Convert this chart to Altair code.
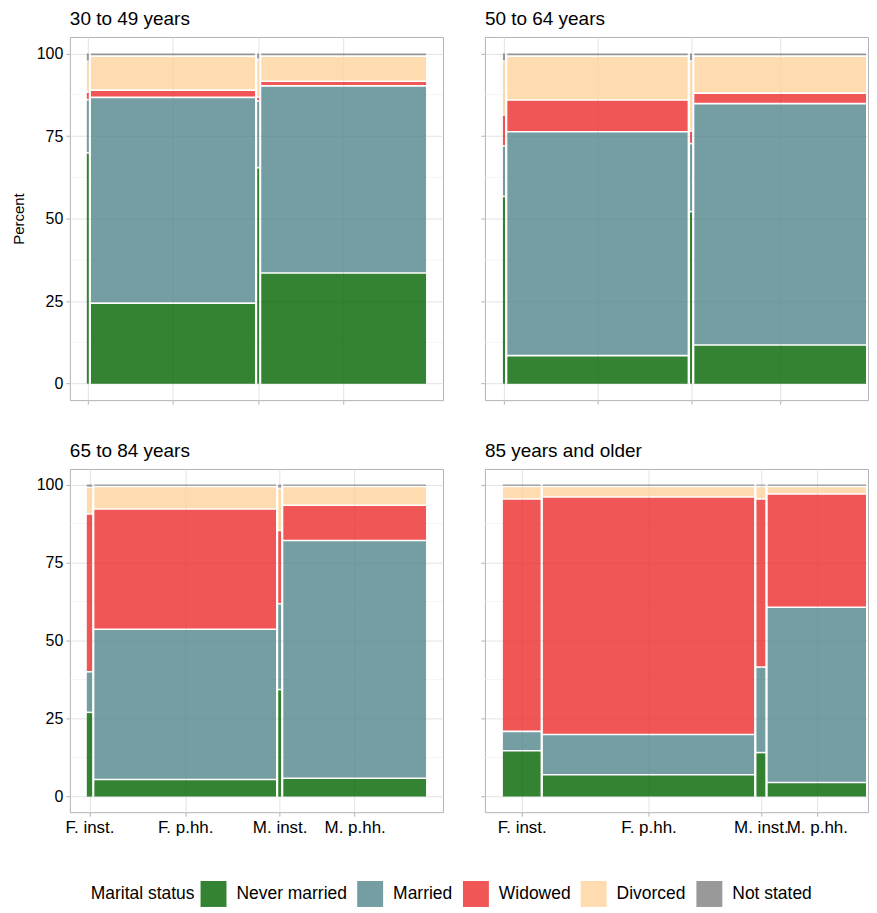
import altair as alt
import pandas as pd

age_groups = ["30 to 49 years", "50 to 64 years", "65 to 84 years", "85 years and older"]
households = ["F. inst.", "F. p.hh.", "M. inst.", "M. p.hh."]
statuses = ["Never married", "Married", "Widowed", "Divorced", "Not stated"]
colors = ["#006400", "#53868B", "#EE2C2C", "#FFD39B", "#7F7F7F"]

# share (%) of each household type within the age group
share_30_49 = [0.9, 49.0, 1.2, 48.9]
share_50_64 = [0.9, 50.3, 1.2, 47.6]
share_65_84 = [1.9, 54.2, 1.5, 42.4]
share_85_up = [10.7, 58.8, 3.1, 27.4]

# marital status (%) within each household type: Never married, Married, Widowed, Divorced, Not stated
status_30_49 = [[69.9, 16.1, 2.3, 9.3, 2.4],
                [24.4, 62.3, 2.2, 10.3, 0.8],
                [65.4, 20.2, 1.2, 11.4, 1.8],
                [33.5, 56.7, 1.4, 7.6, 0.8]]
status_50_64 = [[56.7, 15.3, 9.4, 16.3, 2.3],
                [8.5, 67.8, 9.6, 13.3, 0.8],
                [52.1, 20.6, 3.8, 21.2, 2.3],
                [11.7, 73.1, 3.2, 11.2, 0.8]]
status_65_84 = [[27.0, 13.0, 50.6, 8.5, 0.9],
                [5.5, 48.1, 38.6, 7.2, 0.6],
                [34.3, 27.5, 23.5, 13.5, 1.2],
                [5.9, 76.2, 11.3, 6.0, 0.6]]
status_85_up = [[14.7, 6.2, 74.5, 4.0, 0.6],
                [7.0, 12.9, 76.1, 3.4, 0.6],
                [14.1, 27.4, 53.9, 4.0, 0.6],
                [4.5, 56.2, 36.3, 2.4, 0.6]]

shares = dict(zip(age_groups, [share_30_49, share_50_64, share_65_84, share_85_up]))
status_pct = dict(zip(age_groups, [status_30_49, status_50_64, status_65_84, status_85_up]))

GX = 0.65  # gap between columns (mosaic units)
GY = 0.5   # gap between stacked cells

rows = []
for a in age_groups:
    sh = shares[a]
    tot = sum(sh)
    cum = [0.0]
    for s in sh:
        cum.append(cum[-1] + s * 100.0 / tot)
    for i, hh in enumerate(households):
        x0 = cum[i] + (GX / 2 if i > 0 else 0)
        x1 = cum[i + 1] - (GX / 2 if i < len(households) - 1 else 0)
        p = status_pct[a][i]
        tp = sum(p)
        cy = [0.0]
        for v in p:
            cy.append(cy[-1] + v * 100.0 / tp)
        for k, st in enumerate(statuses):
            y0 = cy[k] + (GY / 2 if k > 0 else 0)
            y1 = cy[k + 1] - (GY / 2 if k < len(statuses) - 1 else 0)
            rows.append(dict(panel=a, household=hh, status=st, order=k,
                             x=x0, x2=x1, y=y0, y2=y1, xc=(x0 + x1) / 2))
rects = pd.DataFrame(rows)
minor_df = pd.DataFrame({"v": [12.5, 37.5, 62.5, 87.5]})

FONT = "Liberation Sans"
GRID = "#e3e3e3"
TICK = "#b3b3b3"


def panel(name, row, col):
    d = rects[rects.panel == name]
    centers = sorted(d.drop_duplicates("household")["xc"].tolist())
    labs = households
    mids = [(centers[j] + centers[j + 1]) / 2 for j in range(3)]
    expr = ("datum.value < %f ? '%s' : datum.value < %f ? '%s' : datum.value < %f ? '%s' : '%s'"
            % (mids[0], labs[0], mids[1], labs[1], mids[2], labs[2], labs[3]))
    if col == 0:
        w, xdom = 374, [-5, 105]
    else:
        w, xdom = 384, [-4.96, 100.55]
    h = 364 if row == 0 else 344
    xscale = alt.Scale(domain=xdom, nice=False, zero=False)
    yscale = alt.Scale(domain=[-5, 105], nice=False, zero=False)
    xaxis = alt.Axis(values=centers, labelExpr=expr, labels=(row == 1), title=None,
                     grid=True, gridColor=GRID, gridWidth=1, domain=False,
                     tickSize=4, tickColor=TICK, labelOverlap=False,
                     labelFont=FONT, labelFontSize=17, labelColor="#000000", labelPadding=3)
    if col == 0:
        ytitle = "Percent" if row == 0 else " "
    else:
        ytitle = None
    yaxis_kw = dict(values=[0, 25, 50, 75, 100], labels=(col == 0),
                    grid=True, gridColor=GRID, gridWidth=1, domain=False,
                    tickSize=4, tickColor=TICK,
                    labelFont=FONT, labelFontSize=16, labelColor="#000000", labelPadding=3,
                    titleFont=FONT, titleFontSize=15, titleFontWeight="normal",
                    titleColor="#000000", titlePadding=10)
    yaxis = alt.Axis(title=ytitle, **yaxis_kw)
    minor = alt.Chart(minor_df).mark_rule(color="#efefef", strokeWidth=0.7).encode(
        y=alt.Y("v:Q", scale=yscale, axis=yaxis))
    rect = alt.Chart(d).mark_rect(opacity=0.8).encode(
        x=alt.X("x:Q", scale=xscale, axis=xaxis),
        x2="x2:Q",
        y=alt.Y("y:Q", scale=yscale, axis=yaxis),
        y2="y2:Q",
        color=alt.Color("status:N", sort=statuses,
                        scale=alt.Scale(domain=statuses, range=colors),
                        legend=alt.Legend(title="Marital status", orient="none",
                                          direction="horizontal", legendX=21, legendY=846,
                                          titleOrient="left", titleAnchor="middle",
                                          titleBaseline="middle", symbolType="square",
                                          symbolSize=676, symbolStrokeWidth=0,
                                          symbolOpacity=0.8, labelFont=FONT,
                                          labelFontSize=17.5, titleFont=FONT,
                                          titleFontSize=17.5, titleFontWeight="normal",
                                          labelColor="#000000", titleColor="#000000",
                                          columnPadding=10, labelOffset=10, titlePadding=5)),
        order=alt.Order("order:Q"),
    )
    return alt.layer(minor, rect).properties(
        width=w, height=h,
        title=alt.TitleParams(name, anchor="start", frame="group", font=FONT, fontSize=19,
                              fontWeight="normal", color="#000000", offset=8))


top = alt.hconcat(panel(age_groups[0], 0, 0), panel(age_groups[1], 0, 1), spacing=36)
bottom = alt.hconcat(panel(age_groups[2], 1, 0), panel(age_groups[3], 1, 1), spacing=36)
chart = alt.vconcat(top, bottom, spacing=36).properties(
    padding={"left": 2, "top": 0, "right": 0, "bottom": 0}
).configure_view(stroke=TICK, strokeWidth=1)

chart.save("out.html", embed_options={"renderer": "svg", "actions": False})
